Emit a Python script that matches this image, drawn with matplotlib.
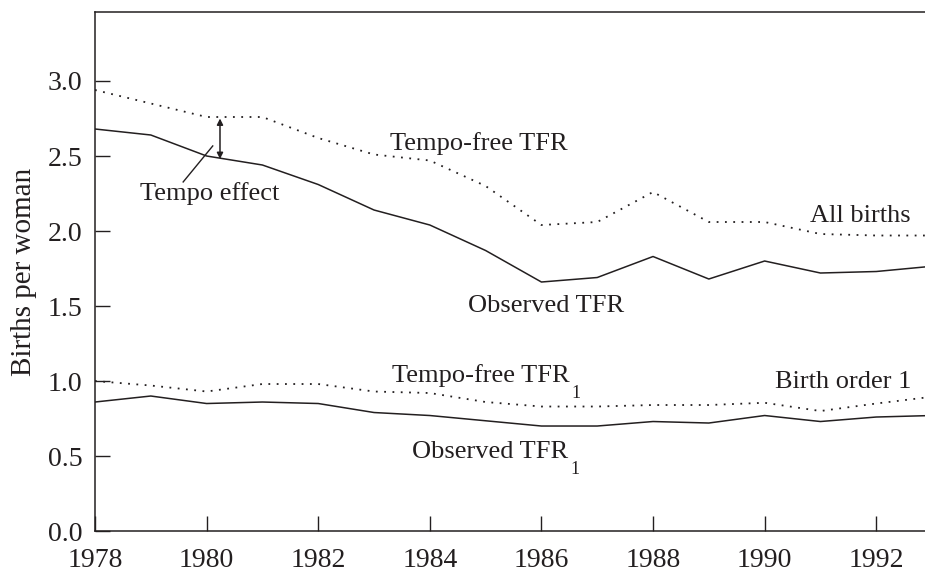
import numpy as np
import matplotlib.pyplot as plt

plt.rcParams['font.family'] = ['Liberation Serif', 'DejaVu Serif']

years = np.arange(1978, 1994)
tempo_free_tfr = [2.94, 2.85, 2.76, 2.76, 2.62, 2.51, 2.47, 2.30, 2.04, 2.06,
                  2.26, 2.06, 2.06, 1.98, 1.97, 1.97]
observed_tfr = [2.68, 2.64, 2.50, 2.44, 2.31, 2.14, 2.04, 1.87, 1.66, 1.69,
                1.83, 1.68, 1.80, 1.72, 1.73, 1.765]
tempo_free_tfr1 = [1.00, 0.97, 0.93, 0.98, 0.98, 0.93, 0.92, 0.86, 0.83, 0.83,
                   0.84, 0.84, 0.855, 0.80, 0.85, 0.895]
observed_tfr1 = [0.86, 0.90, 0.85, 0.86, 0.85, 0.79, 0.77, 0.735, 0.70, 0.70,
                 0.73, 0.72, 0.77, 0.73, 0.76, 0.77]

ink = '#231f20'
fig = plt.figure(figsize=(9.25, 5.71), dpi=100)
ax = fig.add_axes([0.1027, 0.070, 0.9049, 0.909])

dots = (0, (1, 3.6))
ax.plot(years, tempo_free_tfr, color=ink, lw=1.3, linestyle=dots)
ax.plot(years, observed_tfr, color=ink, lw=1.1)
ax.plot(years, tempo_free_tfr1, color=ink, lw=1.3, linestyle=dots)
ax.plot(years, observed_tfr1, color=ink, lw=1.1)

ax.set_xlim(1978, 1993)
ax.set_ylim(0, 3.46)
ax.set_xticks(np.arange(1978, 1993, 2))
ax.set_yticks(np.arange(0, 3.01, 0.5))
ax.set_yticklabels(['%.1f' % v for v in np.arange(0, 3.01, 0.5)])
ax.tick_params(direction='in', length=11, width=1, labelsize=20,
               colors=ink, pad=9)
ax.tick_params(axis='x', pad=12)
for s in ['left', 'bottom', 'top']:
    ax.spines[s].set_linewidth(1.1)
    ax.spines[s].set_color(ink)
ax.spines['right'].set_visible(False)

ax.set_ylabel('Births per woman', fontsize=21, color=ink, labelpad=8)

fs = 19
ax.text(1983.29, 2.54, 'Tempo-free TFR', fontsize=fs, color=ink, va='baseline')
ax.text(1990.81, 2.062, 'All births', fontsize=fs, color=ink, va='baseline')
ax.text(1984.68, 1.462, 'Observed TFR', fontsize=fs, color=ink, va='baseline')
ax.text(1990.19, 0.951, 'Birth order 1', fontsize=fs, color=ink, va='baseline')

# TFR with a dropped subscript 1
for x0, y0, label in [(1983.32, 0.993, 'Tempo-free TFR'),
                      (1983.68, 0.487, 'Observed TFR')]:
    t = ax.text(x0, y0, label, fontsize=fs, color=ink, va='baseline')
    ax.annotate('1', xy=(1, 0), xycoords=t, xytext=(1.5, 1.5),
                textcoords='offset points', fontsize=13, color=ink,
                ha='left', va='top')

# tempo effect marker
ax.annotate('', xy=(1980.24, 2.75), xytext=(1980.24, 2.48),
            arrowprops=dict(arrowstyle='<|-|>', color=ink, lw=1.1,
                            mutation_scale=9, shrinkA=0, shrinkB=0))
ax.plot([1979.58, 1980.11], [2.327, 2.567], color=ink, lw=1.0)
ax.text(1978.81, 2.207, 'Tempo effect', fontsize=fs, color=ink, va='baseline')

fig.savefig('out.png', dpi=100)
